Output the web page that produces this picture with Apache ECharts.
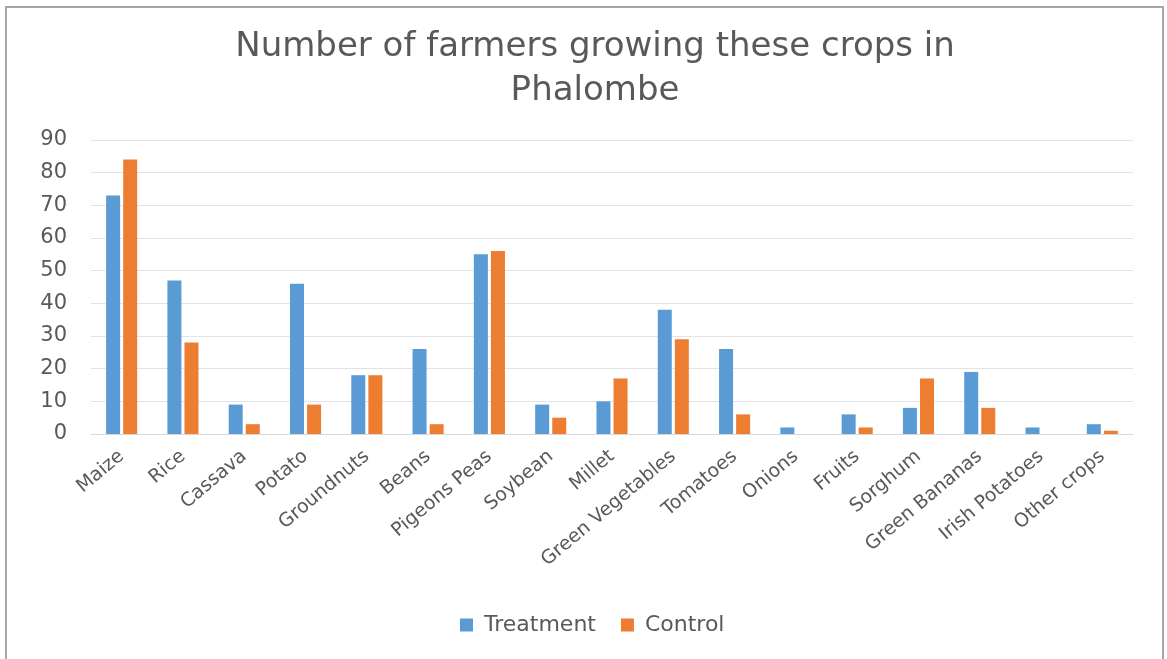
<!DOCTYPE html>
<html>
<head>
<meta charset="utf-8">
<script src="https://cdn.jsdelivr.net/npm/echarts@6/dist/echarts.min.js"></script>
<style>
  html, body { margin: 0; padding: 0; background: #fff; }
  #chart { width: 1167px; height: 659px; }
</style>
</head>
<body>
<div id="chart"></div>
<script>
// crops on the x axis
var crops = ['Maize', 'Rice', 'Cassava', 'Potato', 'Groundnuts', 'Beans', 'Pigeons Peas', 'Soybean',
  'Millet', 'Green Vegetables', 'Tomatoes', 'Onions', 'Fruits', 'Sorghum', 'Green Bananas',
  'Irish Potatoes', 'Other crops'];
// number of farmers
var treatment = [73, 47, 9, 46, 18, 26, 55, 9, 10, 38, 26, 2, 6, 8, 19, 2, 3];
var control = [84, 28, 3, 9, 18, 3, 56, 5, 17, 29, 6, 0, 2, 17, 8, 0, 1];

var labelColor = '#595959';
var font = 'DejaVu Sans';

var myChart = echarts.init(document.getElementById('chart'));
myChart.setOption({
    animation: false,
    textStyle: { fontFamily: font },
    title: {
        text: 'Number of farmers growing these crops in\nPhalombe',
        left: 590,
        textAlign: 'center',
        top: 20,
        textStyle: {
            fontFamily: font,
            fontSize: 34,
            fontWeight: 'normal',
            color: labelColor,
            lineHeight: 44
        }
    },
    // frame round the chart
    graphic: [{
        type: 'rect',
        shape: { x: 6, y: 7, width: 1157, height: 660 },
        style: { fill: 'none', stroke: '#a6a6a6', lineWidth: 2 }
    }],
    legend: {
        bottom: 18,
        left: 455,
        data: ['Treatment', 'Control'],
        icon: 'rect',
        itemWidth: 13,
        itemHeight: 13,
        itemGap: 25,
        textStyle: { fontFamily: font, fontSize: 22, color: labelColor, padding: [0, 0, 0, 6] }
    },
    grid: {
        left: 91,
        right: 34,
        top: 140,
        bottom: 225,
        containLabel: false
    },
    xAxis: {
        type: 'category',
        data: crops,
        axisLine: { lineStyle: { color: '#d9d9d9' } },
        axisTick: { show: false },
        axisLabel: {
            interval: 0,
            rotate: 40,
            margin: 20,
            fontSize: 19,
            color: labelColor
        }
    },
    yAxis: {
        type: 'value',
        min: 0,
        max: 90,
        interval: 10,
        axisLine: { show: false },
        axisTick: { show: false },
        splitLine: { lineStyle: { color: '#e3e3e3' } },
        axisLabel: { fontSize: 21, color: labelColor, margin: 24 }
    },
    series: [{
        name: 'Treatment',
        type: 'bar',
        data: treatment,
        barWidth: 14,
        barGap: '22%',
        itemStyle: { color: '#5b9bd5' }
    }, {
        name: 'Control',
        type: 'bar',
        data: control,
        barWidth: 14,
        itemStyle: { color: '#ed7d31' }
    }]
});
</script>
</body>
</html>
